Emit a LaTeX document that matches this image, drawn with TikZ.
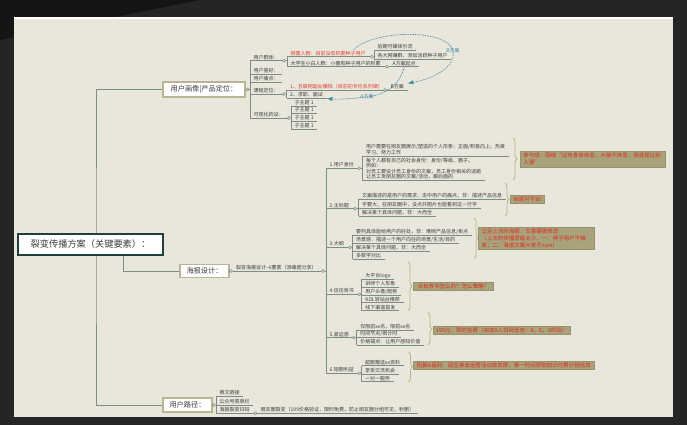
\documentclass[tikz,border=0pt]{standalone}
\usepackage{fontspec}
\setmainfont{Noto Sans CJK SC}
\usepackage{xcolor}
\usepackage{tikz}
\usetikzlibrary{arrows.meta,calc,decorations.pathreplacing}
\definecolor{frame}{HTML}{252525}
\definecolor{framedark}{HTML}{151515}
\definecolor{canvas}{HTML}{E9E7DC}
\definecolor{branch}{HTML}{7E8C84}
\definecolor{ink}{HTML}{3C3C3C}
\definecolor{hotred}{HTML}{E53D2E}
\definecolor{rootline}{HTML}{203F3D}
\definecolor{topicline}{HTML}{B8B592}
\definecolor{notefill}{HTML}{A9A37C}
\definecolor{noteline}{HTML}{98926C}
\definecolor{notered}{HTML}{E0281C}
\definecolor{braceline}{HTML}{BAB48C}
\definecolor{relblue}{HTML}{3F8AA8}
\pgfdeclarelayer{bg}
\pgfdeclarelayer{lines}
\pgfsetlayers{bg,lines,main}

\begin{document}
\begin{tikzpicture}[x=1pt,y=-1pt,>=Latex,
  conn/.style={draw=branch,line width=0.6pt},
  leaf/.style={anchor=south west,inner xsep=3.5pt,inner ysep=0.8pt,align=left,text=ink,
    font=\fontsize{5}{5.6}\selectfont,
    append after command={(\tikzlastnode.south west) edge[conn] (\tikzlastnode.south east)}},
  hot/.style={leaf,text=hotred},
  knob/.style={circle,draw=branch,fill=canvas,line width=0.5pt,inner sep=0pt,minimum size=3pt},
  rootbox/.style={draw=rootline,fill=white,line width=1.5pt,minimum width=145pt,minimum height=21pt,
    text=ink,font=\fontsize{9.2}{10}\selectfont},
  topic/.style={draw=topicline,fill=white,line width=1.3pt,inner sep=0pt,text=ink,font=\fontsize{7.2}{8}\selectfont},
  note/.style={anchor=west,fill=notefill,draw=noteline,line width=0.5pt,inner xsep=3pt,inner ysep=1.5pt,
    align=left,text=notered,font=\fontsize{5.5}{7}\selectfont},
  brace/.style={draw=braceline,line width=0.8pt,decorate,decoration={brace,amplitude=4pt}},
  rel/.style={draw=relblue,line width=0.6pt,dash pattern=on 1.5pt off 1pt,->},
  rellabel/.style={text=relblue,font=\fontsize{5}{6}\selectfont,inner sep=0.5pt}]
\useasboundingbox (0,0) rectangle (687,425);
\begin{pgfonlayer}{bg}
\fill[frame] (0,0) rectangle (687,425);
\fill[framedark] (0,0) -- (200,0) -- (0,40) -- cycle;
\fill[white] (14,17.5) rectangle (673,19.5);
\fill[canvas] (14,19.5) rectangle (673,417);
\end{pgfonlayer}

\node[rootbox] (root) at (90.5,244.5) {裂变传播方案（关键要素）：};
\node[topic,minimum width=82pt,minimum height=15pt] (portrait) at (204,89.5) {用户画像|产品定位：};
\node[topic,minimum width=49pt,minimum height=13pt] (poster) at (204.5,271) {海报设计：};
\node[topic,minimum width=49pt,minimum height=14pt] (route) at (187.5,405) {用户路径：};
\coordinate (hub) at (96,244.5);
\coordinate (rootfoot) at (123,255);
\begin{pgfonlayer}{lines}
\draw[conn] (portrait.west) -| (hub) |- (route.west);
\draw[conn] (rootfoot) |- (poster.west);
\end{pgfonlayer}

\node[knob] (portrait-k) at (247.5,89.5) {};
\node[leaf] (group) at (250,60.7) {用户群体：};
\node[leaf] (like) at (250,74) {用户喜好：};
\node[leaf] (pain) at (250,82) {用户痛点：};
\node[leaf] (course) at (250,94) {课程定位：};
\node[leaf] (visual) at (250,118) {可视化的设：};
\draw[conn] (portrait.east) -- (portrait-k) -- (portrait-k -| group.south west);
\draw[conn] (group.south west) -- (visual.south west);

\node[knob] (group-k) at (284,60.7) {};
\node[hot] (need) at (287,56.7) {刚需人群：目前没有积累种子用户};
\node[leaf] (student) at (287,66.7) {大学生小白人群：小圈有种子用户的积累};
\node[knob] (need-k) at (372,56.7) {};
\node[knob] (student-k) at (387,66.7) {};
\node[leaf] (astart) at (389,66.7) {A方案起点};
\node[leaf] (later) at (374,50) {后期可媒体引流};
\node[leaf] (wangzhuan) at (374,59) {各大网赚群，添加活跃种子用户};
\draw[conn] (group.south east) -- (group-k) -- (group-k -| need.south west);
\draw[conn] (need.south west) -- (student.south west);
\draw[conn] (need.south east) -- (need-k) -- (need-k -| later.south west);
\draw[conn] (later.south west) -- (wangzhuan.south west);
\draw[conn] (student.south east) -- (student-k) -- (astart.south west);

\node[knob] (course-k) at (284,94) {};
\node[hot] (fuye) at (286.5,90) {1、互联网副业赚钱（目前的专栏系列课）};
\node[leaf] (job) at (286.5,98.3) {2、求职、面试};
\node[knob] (fuye-k) at (385,90) {};
\node[leaf] (bplan) at (387,90) {B方案};
\draw[conn] (course.south east) -- (course-k) -- (course-k -| fuye.south west);
\draw[conn] (fuye.south west) -- (job.south west);
\draw[conn] (fuye.south east) -- (fuye-k) -- (bplan.south west);

\node[knob] (visual-k) at (289,118) {};
\foreach \i/\y in {1/106,2/113.3,3/121.3,4/129.3}
  \node[leaf] (sub\i) at (291,\y) {子主题 1};
\draw[conn] (visual.south east) -- (visual-k) -- (visual-k -| sub1.south west);
\draw[conn] (sub1.south west) -- (sub4.south west);

\draw[rel] ([xshift=-16pt]need.north east) .. controls (372,30) and (448,28) .. (453,51)
  node[rellabel] (blabel) {B方案} .. controls (456,66) and (436,78) .. (bplan.north east);
\draw[rel] (astart.south) .. controls (400,85) and (385,95) .. (367,97)
  node[rellabel] (alabel) {A方案} .. controls (350,99) and (335,99.5) .. (job.south east);

\node[knob] (poster-k) at (231,271) {};
\node[leaf] (sixkey) at (232.5,271) {裂变海报设计--6要素（添峰团分享）};
\node[knob] (sixkey-k) at (323,271) {};
\foreach \n/\y/\t/\k in {id/168.3/1.用户身份/359.3,title/208.7/2.主标题/355,outline/247.3/3.大纲/350,
    trust/294.3/4.信任背书/359.3,urgent/337.7/5.紧迫感/354,gain/373.3/6.短期利益/359.3}{
  \node[leaf] (\n) at (326,\y) {\t};
  \node[knob] (\n-k) at (\k,\y) {};
  \draw[conn] (\n.south east) -- (\n-k);
}
\draw[conn] (poster.east) -- (poster-k) -- (sixkey.south west);
\draw[conn] (sixkey.south east) -- (sixkey-k) -- (sixkey-k -| id.south west);
\draw[conn] (id.south west) -- (gain.south west);

\node[leaf] (idA) at (362.5,156) {用户需要在朋友圈展示/塑造的个人形象：正面/积极向上、热爱\\学习、努力工作};
\node[leaf] (idB) at (362.5,180.7) {每个人都有自己的社会身份：身份/等级、圈子。\\例如：\\对员工要设计员工身份的文案，员工身份相关的话题\\让员工发朋友圈的文案/活动，跟后面的};
\draw[conn] (id-k) -- (id-k -| idA.south west);
\draw[conn] (idA.south west) -- (idB.south west);
\draw[brace] (513,138) -- (513,180);
\node[note,text width=139pt] (idnote) at (520,159.2) {参与感：围绕“过年身体休息，大脑不休息，我就是比别\\人强”};

\node[leaf] (tA) at (358.5,199.3) {文案描述的是用户的需求，击中用户的痛点，非：描述产品信息};
\node[leaf] (tB) at (358.5,208.3) {字要大，在朋友圈中，没点开图片也能看到这一行字};
\node[leaf] (tC) at (358.5,216) {解决某个具体问题，非：大而全};
\draw[conn] (title-k) -- (title-k -| tA.south west);
\draw[conn] (tA.south west) -- (tC.south west);
\draw[brace] (505,183) -- (505,216);
\node[note] (tnote) at (510,199.5) {标题可不动};

\node[leaf] (oA) at (352.5,235) {要列具体能给用户的好处，非：堆砌产品信息/卖点};
\node[leaf] (oB) at (352.5,243.3) {场景感：描述一个用户向往的场景/生活/目的};
\node[leaf] (oC) at (352.5,251) {解决某个具体问题，非：大而全};
\node[leaf] (oD) at (352.5,259.3) {多数字对比};
\draw[conn] (outline-k) -- (outline-k -| oA.south west);
\draw[conn] (oA.south west) -- (oD.south west);
\draw[brace] (474,218) -- (474,258.3);
\node[note,text width=110pt] (onote) at (478,238.2) {立足上次的海报，文案需做修改\\（上次的传播层级太少，一：种子用户不精\\准；二：海报文案大家不care）};

\node[leaf] (r1) at (361.7,279.3) {大平台logo};
\node[leaf] (r2) at (361.7,287.3) {讲师个人形象};
\node[leaf] (r3) at (361.7,295) {用户头像/昵称};
\node[leaf] (r4) at (361.7,302.7) {KOL转站台推荐};
\node[leaf] (r5) at (361.7,310.7) {线下渠道首发};
\draw[conn] (trust-k) -- (trust-k -| r1.south west);
\draw[conn] (r1.south west) -- (r5.south west);
\draw[brace] (408,261.7) -- (408,310.7);
\node[note,inner xsep=4pt] (rnote) at (413.3,286.2) {没有背书怎么办？怎么策略？};

\node[leaf] (u1) at (356.7,330) {仅限前xx名，限前xx名};
\node[leaf] (u2) at (356.7,337.7) {时间节点/倒计时};
\node[leaf] (u3) at (356.7,345) {价格锚点：让用户感知价值};
\draw[conn] (urgent-k) -- (urgent-k -| u1.south west);
\draw[conn] (u1.south west) -- (u3.south west);
\draw[brace] (428,312.7) -- (428,345);
\node[note] (unote) at (432.7,330) {199元，限时免费（完成9人扫码任务：4、6、9阶段）};

\node[leaf] (g1) at (361.5,365.7) {超额赠送xx资料};
\node[leaf] (g2) at (361.5,374) {享受交流机会};
\node[leaf] (g3) at (361.5,381.7) {一对一服务};
\draw[conn] (gain-k) -- (gain-k -| g1.south west);
\draw[conn] (g1.south west) -- (g3.south west);
\draw[brace] (408.5,351.7) -- (408.5,381.7);
\node[note] (gnote) at (413.3,365.2) {招募\&福利：诞生渠道运营活动首发群，第一时间获取知识付费分销信息};

\node[knob] (route-k) at (214,405) {};
\node[leaf] (p1) at (216,396) {推文链接};
\node[leaf] (p2) at (216,405) {公众号菜单栏};
\node[leaf] (p3) at (216,413.3) {海报裂变扫码};
\node[knob] (p3-k) at (255.5,413.3) {};
\node[leaf] (p4) at (257,413.3) {朋友圈裂变（199价格验证，限时免费，防止朋友圈分组可见，秒删）};
\draw[conn] (route.east) -- (route-k) -- (route-k -| p1.south west);
\draw[conn] (p1.south west) -- (p3.south west);
\draw[conn] (p3.south east) -- (p3-k) -- (p4.south west);
\end{tikzpicture}
\end{document}
